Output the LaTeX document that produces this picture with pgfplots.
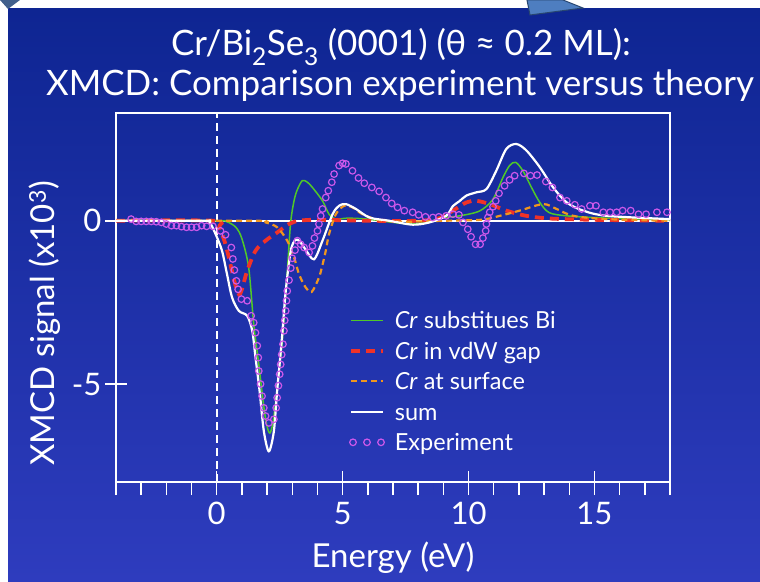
\documentclass[border=0pt]{standalone}
\usepackage{fontspec}
\setmainfont{Lato}
\usepackage{pgfplots}
\pgfplotsset{compat=1.18}
\definecolor{bgtop}{RGB}{14,37,146}
\definecolor{bgmid}{RGB}{22,44,160}
\definecolor{bgbot}{RGB}{46,60,190}
\definecolor{slatedark}{RGB}{66,96,140}
\definecolor{arrowblue}{RGB}{78,126,192}
\definecolor{arrowedge}{RGB}{40,70,112}
\definecolor{cgreen}{RGB}{80,200,40}
\definecolor{cred}{RGB}{240,50,40}
\definecolor{corange}{RGB}{240,150,30}
\definecolor{cviolet}{RGB}{204,88,234}
\pgfplotsset{
  lineleg/.style={legend image code/.code={\draw[##1] (0pt,0pt) -- (32pt,0pt); \path (40pt,0pt);}},
  expleg/.style={legend image code/.code={\draw[##1] plot coordinates {(2pt,0pt) (16pt,0pt) (30pt,0pt)}; \path (40pt,0pt);}},
}

\begin{document}
\begin{tikzpicture}[x=1pt,y=1pt]
\useasboundingbox (0,0) rectangle (760,581);
% slide background
\fill[white] (0,0) rectangle (760,581);
\shade[top color=bgtop, middle color=bgmid, bottom color=bgbot] (8,0) rectangle (760,572);
\fill[slatedark] (0,581) -- (20,581) -- (8,572) -- cycle;
\filldraw[fill=arrowblue, draw=arrowedge, line width=1pt] (527,581) -- (563,581) -- (583,573) -- (530,566) -- cycle;

% title
\node[white, anchor=base, font=\fontsize{35}{40}\selectfont] at (401,525)
  {Cr/Bi\textsubscript{2}Se\textsubscript{3} (0001) (θ ≈ 0.2 ML):};
\node[white, anchor=base, font=\fontsize{35}{40}\selectfont] at (400,485)
  {XMCD: Comparison experiment versus theory};

\begin{axis}[
  at={(116pt,99pt)}, anchor=south west,
  scale only axis, width=554pt, height=369pt,
  xmin=-4, xmax=18, ymin=-8, ymax=3.3,
  axis line style={white, line width=1.5pt},
  xtick={0,5,10,15}, ytick={-5,0},
  xtick pos=bottom, ytick pos=left,
  tick align=center, major tick length=22pt,
  tick style={white, line width=1.5pt},
  extra x ticks={-4,-3,...,18}, extra x tick labels={},
  extra x tick style={tick align=outside, major tick length=13pt},
  ticklabel style={white, font=\fontsize{31}{36}\selectfont},
  xticklabel style={yshift=-6pt},
  /pgf/number format/assume math mode=true,
  xlabel={Energy (eV)},
  ylabel={XMCD signal (x10\textsuperscript{3})},
  label style={white, font=\fontsize{33}{38}\selectfont},
  xlabel style={at={(axis description cs:0.5,-0.205)}, anchor=center},
  ylabel style={at={(axis description cs:-0.128,0.43)}, anchor=center},
  legend style={at={(0.415,0.476)}, anchor=north west, draw=none, fill=none,
    text=white, font=\fontsize{23.5}{28}\selectfont, row sep=7pt,
    nodes={text height=18pt}, cells={anchor=west}},
  lineleg,
]
% reference lines
\addplot[white, line width=1.5pt, forget plot] coordinates {(-4,0) (18,0)};
\addplot[white, line width=2pt, dash pattern=on 8pt off 5pt, forget plot] coordinates {(0,-8) (0,3.3)};

% Cr substitutes Bi
\addplot[cgreen, line width=1.5pt, smooth] coordinates {
(-4,0) (0,0) (0.4,-0.03) (0.76,-0.2) (1.0,-0.55) (1.27,-1.44) (1.47,-3.17)
(1.67,-4.4) (1.87,-5.7) (2.0,-6.3) (2.11,-6.5) (2.23,-6.2) (2.36,-5.4)
(2.6,-3.7) (2.79,-1.7) (2.93,-0.1) (3.07,0.61) (3.2,0.95) (3.4,1.23)
(3.6,1.18) (3.8,1.02) (4.2,0.61) (4.46,0.2) (4.73,0.05) (5.2,0.08) (6,0.05)
(7,-0.05) (7.8,-0.1) (8.5,-0.02) (8.84,0.08) (9.64,0.15) (10.44,0.3)
(10.97,0.66) (11.37,1.33) (11.63,1.69) (11.87,1.79) (12.16,1.53) (12.5,1.02)
(12.83,0.56) (13.2,0.25) (13.9,0.15) (15.5,0.08) (18,0.03)};
% Cr in vdW gap
\addplot[cred, line width=3.8pt, dash pattern=on 9pt off 6pt, smooth] coordinates {
(-4,0) (-0.1,0) (0.1,-0.2) (0.3,-0.6) (0.48,-1.12) (0.7,-1.85) (0.88,-2.25)
(1.0,-2.1) (1.21,-1.53) (1.54,-0.92) (1.94,-0.61) (2.4,-0.36) (2.87,-0.1)
(3.27,0.0) (4,0.03) (6,0) (8,0) (8.84,0.08) (9.38,0.31) (9.91,0.56)
(10.31,0.61) (10.84,0.51) (11.5,0.31) (12.3,0.15) (13.2,0.07) (14.9,0.03) (18,0)};
% Cr at surface
\addplot[corange, line width=2.2pt, dash pattern=on 6pt off 4pt, smooth] coordinates {
(-4,0) (1.5,0) (1.94,-0.05) (2.4,-0.2) (2.8,-0.61) (3.07,-1.12) (3.27,-1.64)
(3.53,-2.04) (3.77,-2.18) (4.06,-1.74) (4.2,-1.35) (4.33,-0.92) (4.46,-0.41)
(4.73,0.2) (5.06,0.46) (5.39,0.41) (5.79,0.2) (6.45,0.02) (7.5,-0.03) (9,0)
(10.5,0.03) (11.24,0.15) (12.03,0.31) (12.96,0.51) (13.5,0.36) (14.16,0.15)
(15.5,0.05) (18,0)};
% sum
\addplot[white, line width=2.2pt, smooth] coordinates {
(-4,0) (-0.5,0) (-0.3,-0.02) (-0.05,-0.4) (0.21,-0.92) (0.41,-1.64)
(0.61,-2.35) (0.88,-2.76) (1.21,-2.91) (1.41,-3.37) (1.54,-4.19) (1.7,-5.2)
(1.87,-6.44) (2.07,-7.06) (2.27,-6.44) (2.4,-5.2) (2.58,-3.68) (2.74,-2.15)
(2.94,-0.92) (3.13,-0.58) (3.3,-0.64) (3.5,-0.85) (3.86,-1.18) (4.2,-0.61)
(4.6,0.2) (4.86,0.46) (5.13,0.51) (5.53,0.36) (6.06,0.1) (6.85,0) (7.78,-0.12)
(8.45,-0.05) (9.11,0.15) (9.38,0.45) (9.64,0.6) (9.91,0.77) (10.31,0.87)
(10.71,0.97) (11.1,1.53) (11.5,2.2) (11.9,2.35) (12.3,2.15) (12.83,1.64)
(13.36,1.02) (13.9,0.56) (14.55,0.31) (15.5,0.15) (18,0.05)};
% experiment
\addplot[cviolet, only marks, mark=o, mark size=3.3pt, line width=1.2pt, expleg]
  coordinates {
(-3.4,0.05) (-3.2,-0.02) (-3.0,-0.02) (-2.8,-0.02) (-2.6,-0.02) (-2.4,-0.03)
(-2.2,-0.05) (-2.0,-0.1) (-1.8,-0.15) (-1.6,-0.15) (-1.4,-0.18) (-1.2,-0.2)
(-1.0,-0.2) (-0.8,-0.2) (-0.6,-0.15) (-0.4,-0.17) (-0.15,-0.17) (0.15,-0.31)
(0.35,-0.43) (0.58,-0.82) (0.64,-1.17) (0.7,-1.51) (0.78,-1.84) (0.85,-2.1)
(0.98,-2.4) (1.21,-2.45) (1.37,-2.91) (1.47,-3.12) (1.54,-3.43) (1.61,-3.83)
(1.65,-4.19) (1.67,-4.6) (1.74,-5.0) (1.8,-5.37) (1.87,-5.73) (1.94,-5.98)
(2.07,-6.19) (2.27,-6.08) (2.36,-5.73) (2.4,-5.42) (2.45,-5.05) (2.5,-4.7)
(2.54,-4.4) (2.58,-4.1) (2.63,-3.78) (2.67,-3.37) (2.7,-3.05) (2.74,-2.76)
(2.77,-2.45) (2.8,-2.15) (2.87,-1.82) (2.94,-1.45) (3.0,-1.15) (3.11,-0.9)
(3.2,-0.61) (3.33,-0.72) (3.47,-0.82) (3.67,-0.97) (3.8,-0.77) (3.88,-0.53)
(4.0,-0.31) (4.06,-0.1) (4.13,0.15) (4.2,0.36) (4.33,0.71) (4.43,0.92)
(4.57,1.18) (4.66,1.43) (4.86,1.69) (5.0,1.76) (5.13,1.74) (5.39,1.53)
(5.63,1.31) (5.86,1.15) (6.16,1.02) (6.45,0.9) (6.72,0.71) (6.95,0.53)
(7.18,0.41) (7.45,0.31) (7.78,0.26) (8.02,0.18) (8.29,0.12) (8.58,0.1)
(8.82,0.12) (9.11,0.15) (9.38,0.2) (9.62,0.18) (9.78,-0.05) (9.97,-0.26)
(10.1,-0.49) (10.28,-0.72) (10.46,-0.72) (10.57,-0.53) (10.68,-0.31)
(10.71,-0.1) (10.77,0.1) (10.84,0.26) (10.97,0.43) (11.08,0.61) (11.21,0.84)
(11.43,1.07) (11.63,1.25) (11.83,1.38) (12.2,1.45) (12.46,1.38) (12.72,1.4)
(13.07,1.2) (13.33,1.02) (13.63,0.71) (13.9,0.61) (14.22,0.49) (14.49,0.36)
(14.82,0.46) (15.06,0.46) (15.35,0.26) (15.62,0.26) (15.88,0.26) (16.12,0.31)
(16.44,0.31) (16.75,0.2) (17.05,0.2) (17.48,0.26) (17.88,0.26)};
\legend{\textit{Cr} substitues Bi, \textit{Cr} in vdW gap, \textit{Cr} at surface, sum, Experiment}
\end{axis}
\end{tikzpicture}
\end{document}
